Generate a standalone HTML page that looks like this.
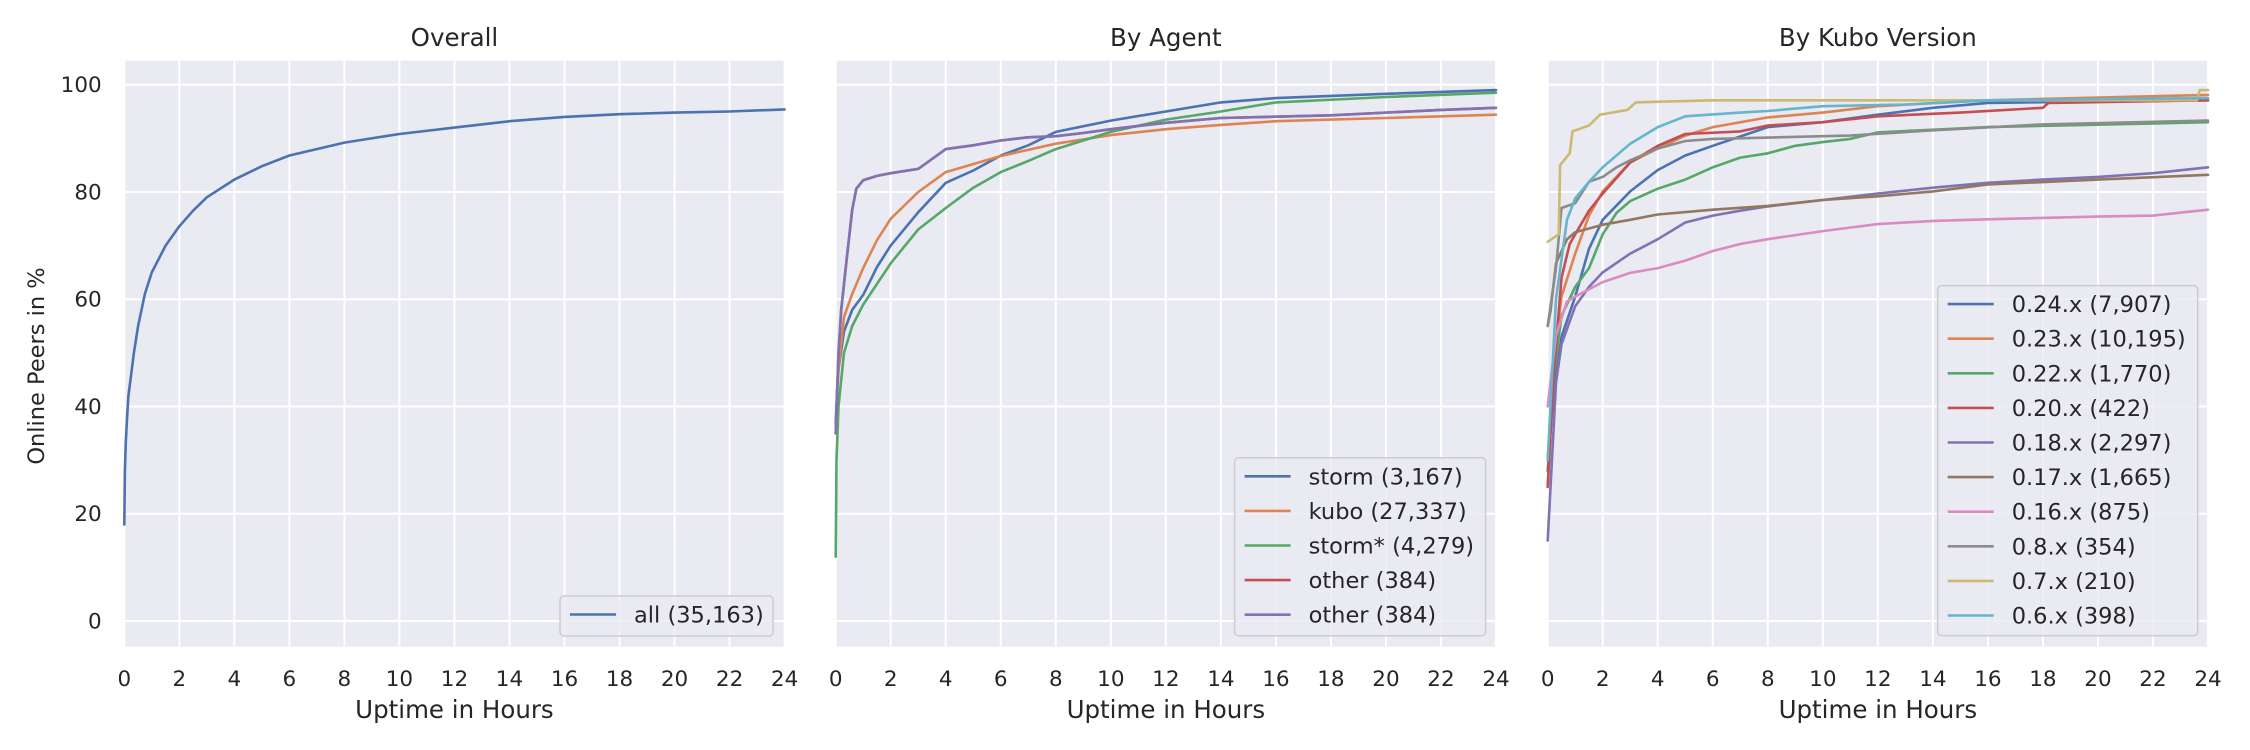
<!DOCTYPE html>
<html><head><meta charset="utf-8"><style>
html,body{margin:0;padding:0;background:#fff;}
svg{display:block;font-family:"DejaVu Sans","Liberation Sans",sans-serif;}
</style></head><body>
<svg id="chart" width="2250" height="750" viewBox="0 0 2250 750" xmlns="http://www.w3.org/2000/svg"></svg>
<script>
// ---- data ----
const xTicks = [0,2,4,6,8,10,12,14,16,18,20,22,24];
const yTicks = [0,20,40,60,80,100];
const panelTitles = ["Overall","By Agent","By Kubo Version"];

const allX = [0,0.02,0.05,0.1,0.15,0.25,0.35,0.5,0.75,1,1.5,2,2.5,3,4,5,6,8,10,12,14,16,18,20,22,24];
const allY = [18,28,33,38,42,46,50,55,61,65,70,73.6,76.5,79,82.3,84.8,86.8,89.2,90.8,92,93.2,94,94.5,94.8,95,95.4];

const stormX = [0,0.05,0.1,0.3,0.6,1,1.5,2,3,4,5,6,7,8,10,12,14,16,20,24];
const stormY = [37,43,47,54,58,60.8,66,70,76.2,81.7,84,86.8,88.7,91.2,93.3,95,96.7,97.5,98.3,99];
const kuboX = [0,0.05,0.1,0.3,0.6,1,1.5,2,3,4,6,8,10,12,14,16,20,24];
const kuboY = [35,42,47,56.7,61,65.8,71,75,80,83.7,86.7,89,90.6,91.7,92.5,93.2,93.8,94.4];
const stormStarX = [0,0.03,0.1,0.3,0.6,1,2,3,4,5,6,7,8,10,12,14,16,20,24];
const stormStarY = [12,30,40,50,55,59,66.7,73,77,80.8,83.7,85.8,88,91.2,93.5,95,96.7,97.7,98.5];
const otherX = [0,0.1,0.2,0.4,0.6,0.75,1,1.5,2,3,3.3,4,5,6,7,8,9,10,12,14,18,22,24];
const otherY = [35,50,58,67.5,76.7,80.6,82.2,83,83.5,84.3,85.4,88,88.7,89.6,90.2,90.4,91,91.7,92.9,93.8,94.3,95.3,95.7];

const v24X = [0,0.2,0.5,1,1.5,2,3,4,5,6,8,10,12,14,16,24];
const v24Y = [28,42,53,60.5,69.4,74.8,80.1,84.1,86.8,88.6,92.1,93,94.4,95.7,96.6,97.1];
const v23X = [0,0.2,0.5,1,1.5,2,3,4,5,6,8,10,12,16,24];
const v23Y = [30,48,60.5,68.5,75.6,80.1,85.5,88.1,90.5,92.1,93.9,94.8,96,97.1,98.1];
const v22X = [0,0.2,0.5,1,1.5,2,2.5,3,4,5,6,7,8,9,10,11,12,16,24];
const v22Y = [25,45,56.9,62.3,65.8,72.1,76.1,78.3,80.6,82.3,84.6,86.4,87.2,88.6,89.3,89.9,91.1,92.1,93];
const v20X = [0,0.2,0.5,0.8,1,1.5,2,3,4,5,7,8,10,12,15,18,18.2,24];
const v20Y = [25,45,64,70.3,72.1,76.5,79.7,85.5,88.6,90.8,91.3,92.4,93,94.1,94.8,95.7,96.6,97.1];
const v18X = [0,0.3,0.5,1,1.5,2,3,4,5,6,7,8,10,12,14,16,18,20,22,24];
const v18Y = [15,44.4,51.6,58.7,62.3,65,68.5,71.2,74.3,75.6,76.5,77.3,78.5,79.7,80.8,81.7,82.3,82.8,83.5,84.6];
const v17X = [0,0.1,0.3,0.7,1,2,3,4,6,8,10,12,14,16,20,24];
const v17Y = [55,57.8,66.7,71.2,72.5,73.9,74.8,75.8,76.7,77.4,78.5,79.2,80.1,81.4,82.3,83.2];
const v16X = [0,0.3,0.7,1,2,3,4,5,6,7,8,10,12,14,16,20,22,24];
const v16Y = [40,53.3,59.6,60.5,63.2,64.9,65.8,67.2,69,70.3,71.2,72.7,74,74.6,74.9,75.4,75.6,76.7];
const v8X = [0,0.3,0.5,1,1.5,2,2.5,3,4,5,6,10,11,14,18,24];
const v8Y = [55,65.8,77,77.9,81.9,82.8,84.6,85.9,88.1,89.5,89.9,90.4,90.5,91.5,92.6,93.3];
const v7X = [0,0.4,0.45,0.8,0.9,1.5,1.9,2.9,3.2,6,23.6,23.7,24];
const v7Y = [70.7,72.1,85,87.2,91.3,92.4,94.4,95.3,96.7,97.1,97.1,99,99];
const v6X = [0,0.3,0.7,1,1.5,2,3,4,5,7,8,10,13,16,24];
const v6Y = [30,60,74.8,78.8,81.9,84.6,89,92.1,94.1,94.8,95.1,96,96.3,97.1,97.5];

const overallSeries = [{n:"all (35,163)",c:"#4c72b0",x:allX,y:allY}];
const agentSeries = [
 {n:"storm (3,167)",c:"#4c72b0",x:stormX,y:stormY},
 {n:"kubo (27,337)",c:"#dd8452",x:kuboX,y:kuboY},
 {n:"storm* (4,279)",c:"#55a868",x:stormStarX,y:stormStarY},
 {n:"other (384)",c:"#c44e52",x:otherX,y:otherY},
 {n:"other (384)",c:"#8172b3",x:otherX,y:otherY}];
const versionSeries = [
 {n:"0.24.x (7,907)",c:"#4c72b0",x:v24X,y:v24Y},
 {n:"0.23.x (10,195)",c:"#dd8452",x:v23X,y:v23Y},
 {n:"0.22.x (1,770)",c:"#55a868",x:v22X,y:v22Y},
 {n:"0.20.x (422)",c:"#c44e52",x:v20X,y:v20Y},
 {n:"0.18.x (2,297)",c:"#8172b3",x:v18X,y:v18Y},
 {n:"0.17.x (1,665)",c:"#937860",x:v17X,y:v17Y},
 {n:"0.16.x (875)",c:"#da8bc3",x:v16X,y:v16Y},
 {n:"0.8.x (354)",c:"#8c8c8c",x:v8X,y:v8Y},
 {n:"0.7.x (210)",c:"#ccb974",x:v7X,y:v7Y},
 {n:"0.6.x (398)",c:"#64b5cd",x:v6X,y:v6Y}];

// ---- layout ----
const NS="http://www.w3.org/2000/svg";
const svg=document.getElementById('chart');
const TOP=60.7, BOT=646.7, W=660.3;
const panelLeft=[124.3,835.7,1547.7];
const legendBoxes=[{x:560,y:596,w:213,h:40},{x:1234.6,y:457.8,w:251,h:178},{x:1937.7,y:285.6,w:260,h:350}];
function Y(v){return 621 - v*5.363;}
function mk(tag,attrs,parent){const e=document.createElementNS(NS,tag);for(const k in attrs)e.setAttribute(k,attrs[k]);(parent||svg).appendChild(e);return e;}

const panels=[overallSeries,agentSeries,versionSeries];
panels.forEach((series,p)=>{
  const x0=panelLeft[p];
  const X=h=>x0+h*W/24;
  const g=mk('g',{});
  
  
  const bg=mk('rect',{x:x0,y:TOP,width:W,height:BOT-TOP,fill:'#eaeaf2'},g);
  
  
  xTicks.forEach(t=>{
    const l=mk('line',{x1:X(t),x2:X(t),y1:TOP,y2:BOT,stroke:'#fff','stroke-width':2},g);
    
    
    const tx=mk('text',{x:X(t),y:686,'text-anchor':'middle','font-size':21.5,fill:'#262626'},g);
    
    
    tx.textContent=t;
  });
  yTicks.forEach(t=>{
    const l=mk('line',{x1:x0,x2:x0+W,y1:Y(t),y2:Y(t),stroke:'#fff','stroke-width':2},g);
    
    
    if(p===0){
      const tx=mk('text',{x:101.7,y:Y(t)+7.5,'text-anchor':'end','font-size':21.5,fill:'#262626'},g);
      
      
      tx.textContent=t;
    }
  });
  series.forEach(s=>{
    const pts=s.x.map((h,i)=>X(h).toFixed(1)+','+Y(s.y[i]).toFixed(1)).join(' ');
    const pl=mk('polyline',{points:pts,fill:'none',stroke:s.c,'stroke-width':2.6,'stroke-linejoin':'round','stroke-linecap':'round'},g);
    
    
  });
  const tt=mk('text',{x:x0+W/2,y:46,'text-anchor':'middle','font-size':24.5,fill:'#262626'},g);
  
  
  tt.textContent=panelTitles[p];
  const xl=mk('text',{x:x0+W/2,y:718,'text-anchor':'middle','font-size':24.5,fill:'#262626'},g);
  
  
  xl.textContent='Uptime in Hours';
  // legend
  const lb=legendBoxes[p];
  const lg=mk('g',{},g);
  
  
  mk('rect',{x:lb.x,y:lb.y,width:lb.w,height:lb.h,rx:4,fill:'#eaeaf2','fill-opacity':0.8,stroke:'#cccccc','stroke-width':1.5},lg);
  series.forEach((s,i)=>{
    const cy=lb.y+18.5+i*34.6;
    const e=mk('g',{},lg);
    
    
    mk('line',{x1:lb.x+10,x2:lb.x+56,y1:cy,y2:cy,stroke:s.c,'stroke-width':2.6},e);
    const t=mk('text',{x:lb.x+74,y:cy+8,'font-size':22.5,fill:'#262626'},e);
    t.textContent=s.n;
  });
});
const yl=mk('text',{x:0,y:0,'text-anchor':'middle','font-size':22.5,fill:'#262626',transform:'translate(44,366) rotate(-90)'});


yl.textContent='Online Peers in %';
</script>
</body></html>
